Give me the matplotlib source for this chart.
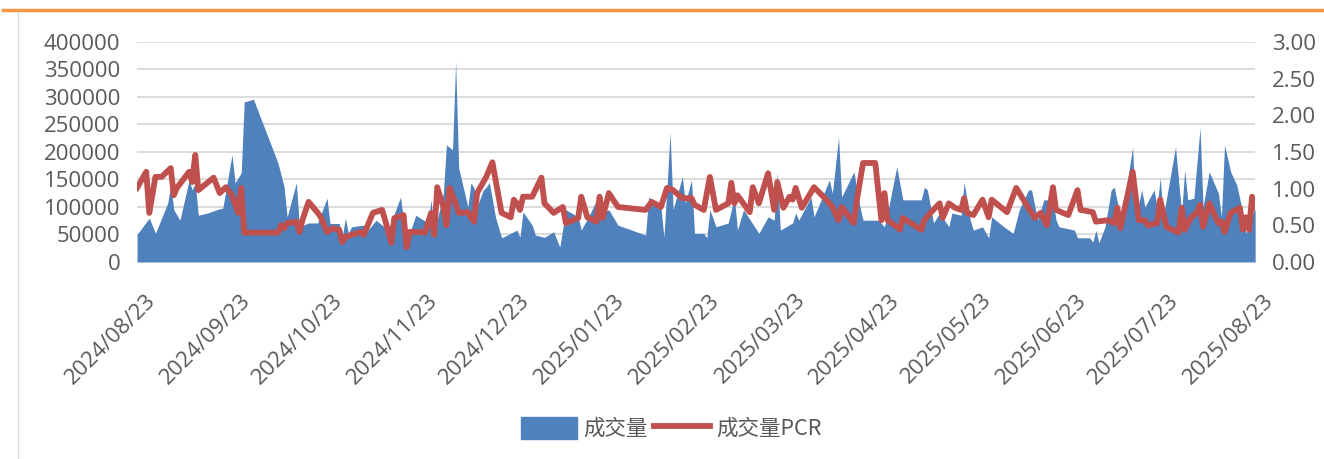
import numpy as np
import pandas as pd
import matplotlib
matplotlib.use("Agg")
import matplotlib.pyplot as plt
import matplotlib.dates as mdates
import matplotlib.transforms as mtransforms
from matplotlib.lines import Line2D
from matplotlib.ticker import FormatStrFormatter

plt.rcParams['font.family'] = ['Open Sans', 'Noto Sans CJK SC', 'DejaVu Sans']

start = pd.Timestamp('2024-08-23')

# volume (成交量): day offset from 2024-08-23, value
vol_days = [0, 4, 6, 10, 11, 12, 14, 17, 18, 19, 20, 23, 26, 28, 31, 32, 34, 35, 38, 46,
            48, 49, 52, 53, 56, 59, 62, 63, 66, 67, 68, 69, 70, 74, 75, 78, 82, 86, 88, 91,
            95, 96, 97, 100, 101, 103, 104, 105, 108, 109, 110, 111, 113, 114, 115, 117, 119, 123, 124, 125,
            126, 129, 130, 133, 136, 138, 140, 144, 145, 148, 150, 152, 154, 157, 166, 167, 171, 172, 173, 174,
            175, 178, 179, 181, 182, 185, 186, 187, 189, 193, 195, 196, 198, 203, 206, 208, 209, 210, 214, 215,
            216, 220, 221, 226, 227, 229, 230, 234, 236, 237, 242, 244, 245, 248, 250, 256, 257, 258, 260, 262,
            265, 266, 269, 270, 272, 273, 276, 278, 279, 283, 286, 288, 291, 292, 294, 296, 299, 300, 301, 306,
            307, 311, 312, 313, 314, 316, 318, 319, 321, 323, 325, 326, 328, 329, 332, 333, 334, 335, 339, 341,
            342, 343, 345, 347, 348, 350, 353, 354, 355, 357, 359, 361, 362, 364, 365]
vol_values = [50000, 80000, 52000, 107000, 140000, 95000, 76000, 149000, 131000, 144000,
              85000, 89000, 95000, 98000, 195000, 144000, 162000, 291000, 296000, 180000,
              137000, 82000, 144000, 64000, 71000, 71000, 116000, 70000, 70000, 45000,
              80000, 52000, 64000, 67000, 55000, 76000, 58000, 118000, 36000, 85000,
              71000, 113000, 52000, 125000, 213000, 204000, 364000, 171000, 100000, 144000,
              135000, 100000, 131000, 136000, 145000, 82000, 44000, 55000, 58000, 45000,
              91000, 67000, 49000, 45000, 55000, 27000, 95000, 82000, 58000, 89000,
              113000, 89000, 95000, 67000, 49000, 118000, 100000, 45000, 136000, 236000,
              95000, 155000, 107000, 149000, 52000, 52000, 44000, 95000, 64000, 71000,
              118000, 58000, 95000, 52000, 82000, 76000, 162000, 58000, 71000, 89000,
              76000, 118000, 82000, 149000, 125000, 227000, 118000, 164000, 100000, 76000,
              76000, 64000, 89000, 173000, 113000, 113000, 136000, 131000, 71000, 89000,
              64000, 89000, 85000, 145000, 76000, 58000, 64000, 44000, 82000, 64000,
              52000, 95000, 131000, 131000, 76000, 113000, 113000, 76000, 64000, 58000,
              44000, 44000, 36000, 58000, 35000, 64000, 131000, 136000, 82000, 136000,
              209000, 82000, 131000, 100000, 131000, 100000, 153000, 82000, 209000, 89000,
              167000, 113000, 116000, 244000, 100000, 164000, 125000, 82000, 213000, 164000,
              140000, 89000, 52000, 89000, 95000]

# volume PCR (成交量PCR)
pcr_days = [0, 3, 4, 6, 8, 11, 12, 13, 17, 18, 19, 20, 25, 27, 29, 31, 33, 34, 35, 46,
            47, 48, 49, 52, 53, 54, 56, 59, 60, 62, 64, 66, 67, 68, 70, 73, 74, 77, 80, 81,
            83, 84, 87, 88, 89, 92, 94, 96, 97, 98, 100, 101, 102, 104, 105, 108, 110, 111, 114, 116,
            119, 122, 123, 124, 125, 126, 129, 132, 133, 136, 139, 140, 144, 145, 147, 150, 151, 152, 154, 157,
            166, 168, 171, 173, 175, 178, 181, 182, 185, 187, 189, 193, 194, 195, 196, 200, 201, 203, 206, 208,
            209, 211, 213, 214, 215, 217, 221, 225, 227, 229, 230, 234, 235, 237, 241, 243, 244, 245, 248, 249,
            250, 256, 257, 259, 262, 263, 265, 267, 269, 270, 271, 273, 276, 278, 279, 284, 287, 293, 295, 297,
            299, 300, 304, 307, 308, 312, 313, 317, 319, 320, 321, 325, 327, 329, 330, 333, 334, 336, 340, 341,
            342, 344, 346, 347, 348, 350, 353, 354, 355, 357, 360, 361, 362, 363, 364, 365]
pcr_values = [1.01, 1.23, 0.67, 1.16, 1.16, 1.28, 0.91, 1.01, 1.23, 1.09,
              1.46, 0.98, 1.15, 0.94, 1.02, 0.91, 0.67, 1.01, 0.40, 0.40,
              0.50, 0.46, 0.53, 0.55, 0.41, 0.57, 0.82, 0.67, 0.61, 0.41,
              0.46, 0.44, 0.27, 0.34, 0.37, 0.41, 0.37, 0.67, 0.71, 0.57,
              0.26, 0.60, 0.64, 0.20, 0.41, 0.41, 0.40, 0.67, 0.37, 1.02,
              0.75, 0.50, 1.01, 0.80, 0.67, 0.68, 0.55, 0.94, 1.16, 1.36,
              0.67, 0.61, 0.85, 0.80, 0.71, 0.89, 0.89, 1.15, 0.80, 0.67,
              0.75, 0.53, 0.60, 0.89, 0.61, 0.55, 0.89, 0.60, 0.94, 0.75,
              0.71, 0.82, 0.75, 1.01, 0.98, 0.87, 0.87, 0.78, 0.71, 1.16,
              0.71, 0.80, 1.08, 0.80, 0.91, 0.68, 1.02, 0.80, 1.21, 0.71,
              1.09, 0.74, 0.89, 0.85, 1.01, 0.74, 1.02, 0.85, 0.75, 0.57,
              0.75, 0.53, 0.85, 1.35, 1.35, 0.57, 0.94, 0.57, 0.48, 0.44,
              0.60, 0.44, 0.57, 0.67, 0.80, 0.60, 0.80, 0.74, 0.71, 0.87,
              0.67, 0.64, 0.85, 0.61, 0.85, 0.68, 1.01, 0.60, 0.67, 0.50,
              1.02, 0.71, 0.64, 0.98, 0.71, 0.68, 0.55, 0.57, 0.53, 0.74,
              0.46, 1.23, 0.57, 0.57, 0.50, 0.53, 0.85, 0.48, 0.40, 0.74,
              0.44, 0.60, 0.68, 0.78, 0.48, 0.80, 0.53, 0.55, 0.41, 0.67,
              0.74, 0.44, 0.61, 0.44, 0.89, 0.74]

tick_dates = ['2024-08-23', '2024-09-23', '2024-10-23', '2024-11-23', '2024-12-23',
              '2025-01-23', '2025-02-23', '2025-03-23', '2025-04-23', '2025-05-23',
              '2025-06-23', '2025-07-23', '2025-08-23']

vol_x = start + pd.to_timedelta(vol_days, unit='D')
pcr_x = start + pd.to_timedelta(pcr_days, unit='D')

blue = '#4F81BD'
red = '#C0504D'
gray_txt = '#595959'

fig = plt.figure(figsize=(13.24, 4.59), dpi=100)
ax = fig.add_axes([0.1035, 0.4292, 0.8445, 0.4793])
ax2 = ax.twinx()

ax.fill_between(vol_x, vol_values, 0, color=blue, linewidth=0, zorder=2)
ax2.plot(pcr_x, pcr_values, color=red, linewidth=4.2, solid_joinstyle='round', zorder=3)

ax.set_ylim(0, 400000)
ax.set_yticks(np.arange(0, 400001, 50000))
ax2.set_ylim(0, 3)
ax2.set_yticks(np.arange(0, 3.01, 0.5))
ax2.yaxis.set_major_formatter(FormatStrFormatter('%.2f'))

ax.set_xlim(start, pd.Timestamp('2025-08-23'))
ax.set_xticks(pd.to_datetime(tick_dates))
ax.xaxis.set_major_formatter(mdates.DateFormatter('%Y/%m/%d'))

ax.grid(axis='y', color='#D9D9D9', linewidth=1.3, zorder=0)
ax.set_axisbelow(True)
for a in (ax, ax2):
    for s in a.spines.values():
        s.set_visible(False)
ax.axhline(0, color='#D9D9D9', linewidth=1.6, zorder=1)

ax.tick_params(axis='y', length=0, labelsize=16, labelcolor=gray_txt, pad=12)
ax2.tick_params(axis='y', length=0, labelsize=16, labelcolor=gray_txt, pad=12)
ax.tick_params(axis='x', length=0, labelsize=16, labelcolor=gray_txt, pad=20)
shift = mtransforms.ScaledTranslation(8 / 100, 0, fig.dpi_scale_trans)
for lbl in ax.get_xticklabels():
    lbl.set_rotation(45)
    lbl.set_ha('right')
    lbl.set_va('top')
    lbl.set_rotation_mode('anchor')
    lbl.set_transform(lbl.get_transform() + shift)

# legend
handles = [plt.Rectangle((0, 0), 1, 1, color=blue),
           Line2D([0], [0], color=red, linewidth=4.2)]
fig.legend(handles, ['成交量', '成交量PCR'], loc='center', bbox_to_anchor=(0.507, 0.067),
           ncol=2, frameon=False, handlelength=2.6, handleheight=1.2,
           columnspacing=0.3, handletextpad=0.3, labelcolor=gray_txt,
           prop={'family': ['Noto Sans CJK SC', 'DejaVu Sans'], 'size': 15.5})

# frame decorations
fig.add_artist(Line2D([0.002, 1.0], [1 - 10 / 459, 1 - 10 / 459], color='#F79646',
                      linewidth=2.5, transform=fig.transFigure))
fig.add_artist(Line2D([18 / 1324, 18 / 1324], [0, 1 - 12 / 459], color='#D9D9D9',
                      linewidth=1.0, transform=fig.transFigure))

fig.savefig('out.png', dpi=100)
